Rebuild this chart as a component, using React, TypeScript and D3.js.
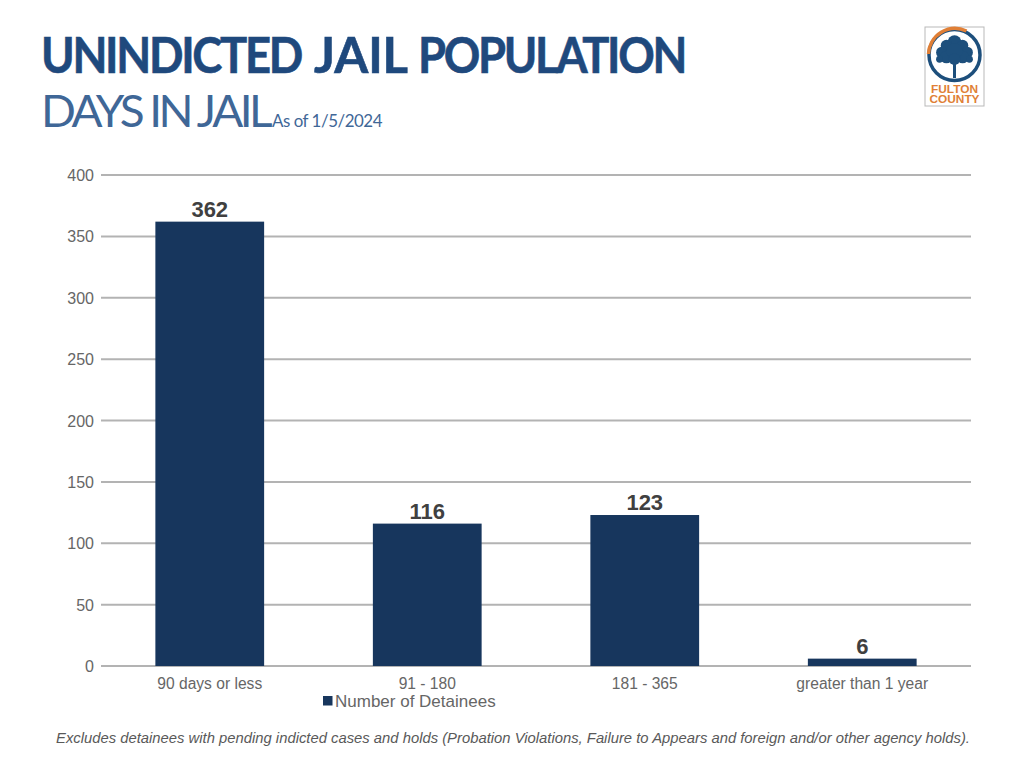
import React from "react";
import * as d3 from "d3";

const categories = ["90 days or less", "91 - 180", "181 - 365", "greater than 1 year"];
const detainees = [362, 116, 123, 6];
const yTicks = [0, 50, 100, 150, 200, 250, 300, 350, 400];
const seriesName = "Number of Detainees";
const footnote = "Excludes detainees with pending indicted cases and holds (Probation Violations, Failure to Appears and foreign and/or other agency holds).";
const treeBlobs: [number, number, number][] = [
  [0, -13, 6], [-7, -10, 5], [7, -10, 5], [-11, -4, 5], [11, -4, 5], [-7, 0, 5.5], [7, 0, 5.5], [0, -5, 7], [-13, 2, 3], [13, 2, 3], [0, 2, 5],
];

const W = 1024, H = 768;
const sans = "'Liberation Sans', Arial, sans-serif";
const titleFont = "Lato, 'Open Sans', sans-serif";
const navy = "#17365d";
const grey = "#666666";

export default function App() {
  const x = d3.scaleBand<string>().domain(categories).range([101, 971]).paddingInner(0.5).paddingOuter(0.25);
  const y = d3.scaleLinear().domain([0, 400]).range([666, 175]);
  const titleStyle = { fontFamily: titleFont, fontWeight: 700, fontSize: 49, fill: "#1f497d", stroke: "#1f497d", strokeWidth: 0.6 };
  return (
    <svg width={W} height={H} viewBox={`0 0 ${W} ${H}`} style={{ position: "absolute", left: 0, top: 0, background: "#fff" }}>
      <text x={41} y={73} {...titleStyle} letterSpacing={-2.5} textLength={260} lengthAdjust="spacingAndGlyphs">UNINDICTED</text>
      <text x={314} y={73} {...titleStyle} textLength={94} lengthAdjust="spacing">JAIL</text>
      <text x={418} y={73} {...titleStyle} letterSpacing={-2.5} textLength={267} lengthAdjust="spacingAndGlyphs">POPULATION</text>
      <text x={41} y={127} fontFamily={titleFont} fontWeight={400} fontSize={45} fill="#3f6797" letterSpacing={-3.5} textLength={228} lengthAdjust="spacingAndGlyphs">DAYS IN JAIL</text>
      <text x={272} y={127} fontFamily={titleFont} fontSize={18} fill="#3f6797" letterSpacing={-0.5} textLength={110} lengthAdjust="spacingAndGlyphs">As of 1/5/2024</text>

      {/* logo */}
      <g transform="translate(954.5,66)">
        <rect x={-29.5} y={-39} width={59} height={79} fill="#fff" stroke="#b9b9b9" strokeWidth={1} />
        <circle cx={0} cy={-11} r={25.5} fill="none" stroke="#1d4f7c" strokeWidth={3.5} />
        <path d="M -26 -12 A 26.5 26.5 0 0 1 12 -35" fill="none" stroke="#e07f36" strokeWidth={3.5} />
        <g transform="translate(0,-9) scale(1.15)">
          {treeBlobs.map(([cx, cy, r], i) => (
            <circle key={i} cx={cx} cy={cy} r={r} fill="#1d4f7c" />
          ))}
        </g>
        <rect x={-1.5} y={-4} width={3} height={16} fill="#1d4f7c" />
        <text x={0} y={27} textAnchor="middle" fontFamily={sans} fontWeight={700} fontSize={11.5} fill="#e07f36" textLength={47} lengthAdjust="spacingAndGlyphs">FULTON</text>
        <text x={0} y={37} textAnchor="middle" fontFamily={sans} fontWeight={700} fontSize={11.5} fill="#e07f36" textLength={50} lengthAdjust="spacingAndGlyphs">COUNTY</text>
      </g>

      {/* gridlines */}
      {yTicks.map((t) => (
        <line key={t} x1={101} x2={971} y1={y(t)} y2={y(t)} stroke="#b3b3b3" strokeWidth={2} />
      ))}
      {yTicks.map((t) => (
        <text key={t} x={94} y={y(t) + 6} textAnchor="end" fontFamily={sans} fontSize={16} fill={grey}>{t}</text>
      ))}

      {/* bars */}
      {categories.map((c, i) => (
        <g key={c}>
          <rect x={x(c)} y={y(detainees[i])} width={x.bandwidth()} height={y(0) - y(detainees[i])} fill={navy} />
          <text x={x(c)! + x.bandwidth() / 2} y={y(detainees[i]) - 5} textAnchor="middle" fontFamily={sans} fontWeight={700} fontSize={22} fill="#404040">{detainees[i]}</text>
          <text x={x(c)! + x.bandwidth() / 2} y={689} textAnchor="middle" fontFamily={sans} fontSize={15.6} fill={grey}>{c}</text>
        </g>
      ))}

      {/* legend */}
      <rect x={323} y={696} width={9.5} height={9.5} fill={navy} />
      <text x={335} y={707} fontFamily={sans} fontSize={17} fill={grey}>{seriesName}</text>

      <text x={56} y={743} fontFamily={sans} fontStyle="italic" fontSize={14} fill="#595959" textLength={914} lengthAdjust="spacingAndGlyphs">{footnote}</text>
    </svg>
  );
}
